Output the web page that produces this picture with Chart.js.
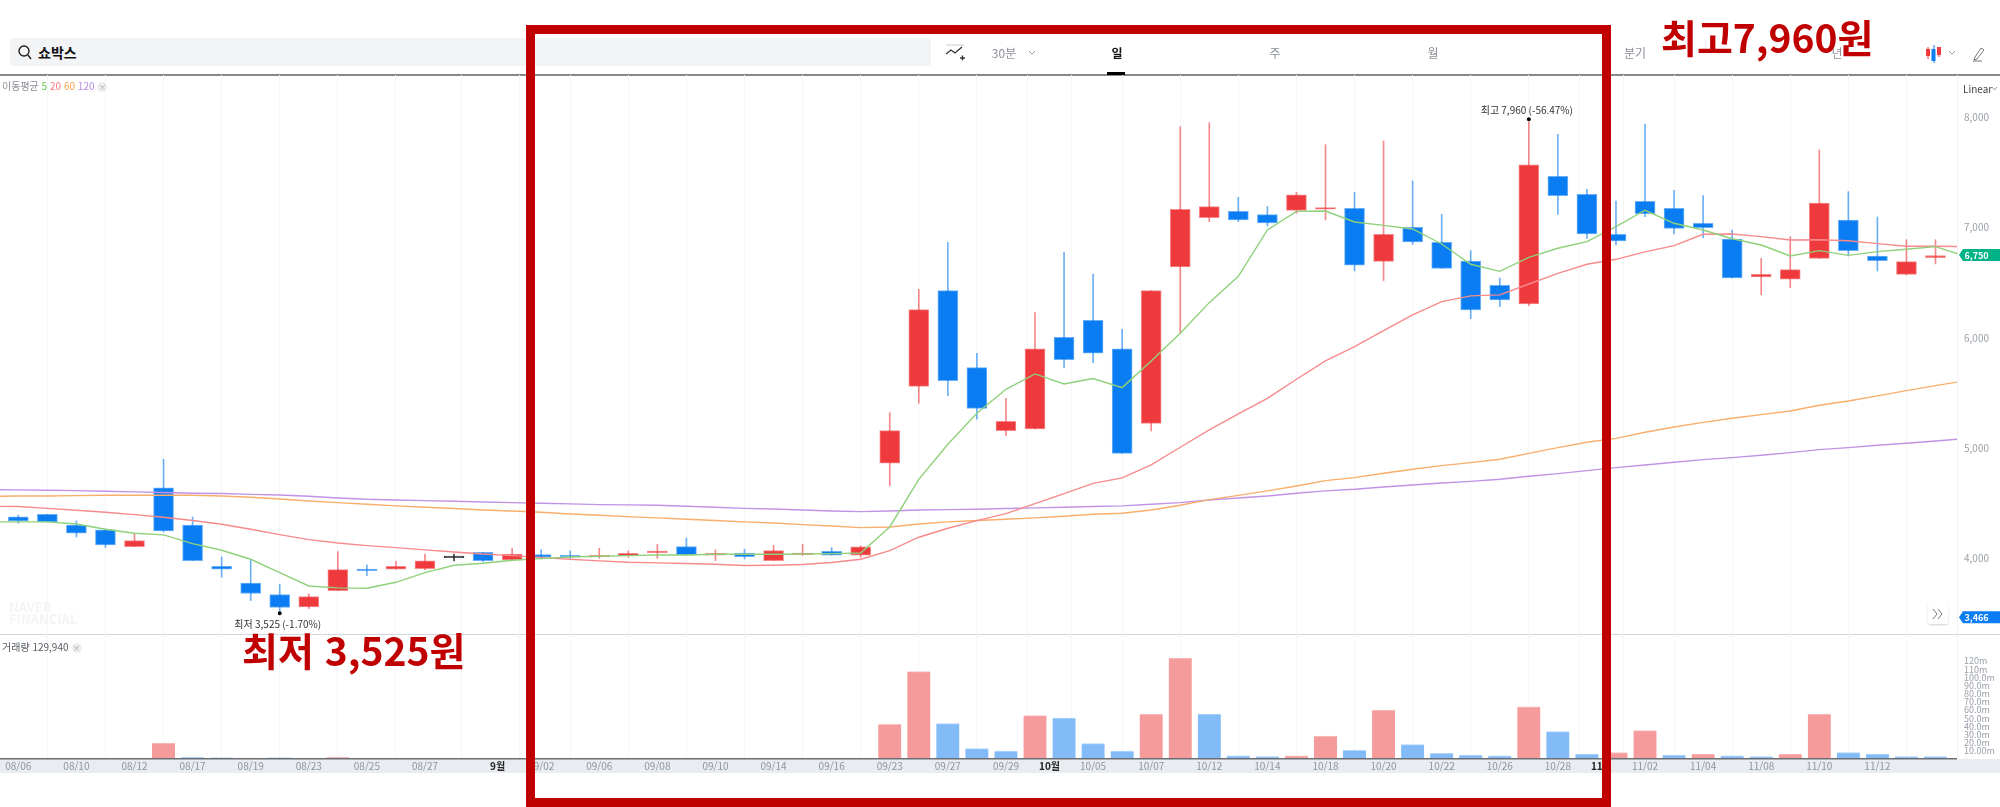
<!DOCTYPE html>
<html lang="ko">
<head>
<meta charset="utf-8">
<title>쇼박스</title>
<script src="https://cdn.jsdelivr.net/npm/chart.js@4/dist/chart.umd.min.js"></script>
<style>
html, body { margin: 0; padding: 0; background: #fff; overflow: hidden; }
body { width: 2000px; height: 807px; position: relative; font-family: "Noto Sans CJK KR", "Noto Sans", sans-serif; }
#price_chart { position: absolute; left: 0; top: 0; }
.label { position: absolute; white-space: nowrap; line-height: 16px; height: 16px; }
.tab { font-size: 12px; color: #8b9098; transform: translateX(-50%); }
.mono { position: absolute; }
#search { position: absolute; left: 10px; top: 38px; width: 921px; height: 28px; background: #f3f4f6; border-radius: 4px; }
#frame { position: absolute; left: 526px; top: 25px; width: 1067px; height: 764px; border: 9px solid #c00000; }
.note { position: absolute; color: #c00000; font-weight: 700; font-size: 39px; line-height: 44px; white-space: nowrap; }
.badge_x { display: inline-block; width: 10px; height: 10px; line-height: 9px; border-radius: 5px; background: #eceef0; color: #a8adb3; font-size: 8px; text-align: center; margin-left: 3px; }
</style>
</head>
<body>
<canvas id="price_chart" width="2000" height="807"></canvas>

<div id="search"></div>
<svg class="mono" style="left:18px;top:44px" width="14" height="16" viewBox="0 0 14 16"><circle cx="6" cy="7" r="5" fill="none" stroke="#222" stroke-width="1.4"/><path d="M10 11l3 4" stroke="#222" stroke-width="1.4"/></svg>
<div class="label" style="left:38px;top:44px;font-size:14px;font-weight:700;color:#111">쇼박스</div>

<svg class="mono" style="left:945px;top:44px" width="20" height="18" viewBox="0 0 20 18"><path d="M1 1h18" stroke="#ccc"/><path d="M1 10l5-4 4 3 7-6" fill="none" stroke="#333" stroke-width="1.3"/><path d="M15 14h5M17.5 11.500v5" stroke="#333" stroke-width="1.300"/></svg>
<div class="label tab" style="left:1004px;top:45px">30분</div>
<svg class="mono" style="left:1028px;top:50px" width="8" height="6" viewBox="0 0 8 6"><path d="M1 1l3 3 3-3" fill="none" stroke="#999"/></svg>
<div class="label tab" style="left:1117px;top:45px;color:#111;font-weight:700">일</div>
<div class="mono" style="left:1107px;top:72px;width:18px;height:3px;background:#000"></div>
<div class="label tab" style="left:1275px;top:45px">주</div>
<div class="label tab" style="left:1433px;top:45px">월</div>
<div class="label tab" style="left:1635px;top:45px">분기</div>
<div class="label tab" style="left:1837px;top:45px">년</div>
<svg class="mono" style="left:1925px;top:44px" width="18" height="20" viewBox="0 0 18 20"><path d="M9 1v18" stroke="#0a7df2"/><rect x="6.500" y="5" width="4" height="12" fill="#0a7df2"/><path d="M3 3v12M14 3v10" stroke="#ef3a3d"/><rect x="1" y="5" width="4" height="7" fill="#ef3a3d"/><rect x="12" y="3" width="4" height="8" fill="#ef3a3d"/></svg>
<svg class="mono" style="left:1948px;top:50px" width="8" height="6" viewBox="0 0 8 6"><path d="M1 1l3 3 3-3" fill="none" stroke="#999"/></svg>
<svg class="mono" style="left:1972px;top:46px" width="14" height="16" viewBox="0 0 14 16"><path d="M9 2l3 2-7 9-3 1 1-3z M1 15h9" fill="none" stroke="#777"/></svg>

<div class="label" style="left:2px;top:78px;font-size:10px;color:#8b9098">이동평균 <span style="color:#63c94f">5</span> <span style="color:#f77d80">20</span> <span style="color:#f7a045">60</span> <span style="color:#b78ae6">120</span><span class="badge_x">×</span></div>
<div class="label" style="left:2px;top:639px;font-size:10px;color:#555b63">거래량 129,940<span class="badge_x">×</span></div>
<div class="label" style="left:1963px;top:81px;font-size:10px;color:#444">Linear</div>
<svg class="mono" style="left:1991px;top:86px" width="7" height="6" viewBox="0 0 7 6"><path d="M1 1l2.500 3 2.500-3" fill="none" stroke="#999"/></svg>
<div class="label" style="left:9px;top:601px;font-size:13px;font-weight:700;color:#f3f4f6;line-height:12px;height:26px">NAVER<br>FINANCIAL</div>

<div class="mono" style="left:1928px;top:604px;width:20px;height:20px;background:#fff;box-shadow:0 1px 2px rgba(0,0,0,.18);border-radius:2px"></div>
<svg class="mono" style="left:1932px;top:608px" width="12" height="12" viewBox="0 0 12 12"><path d="M1 1l4 5-4 5M6 1l4 5-4 5" fill="none" stroke="#777"/></svg>

<div id="frame"></div>
<div class="note" style="left:1661px;top:14px">최고7,960원</div>
<div class="note" style="left:242px;top:627px">최저 3,525원</div>

<script>
// trading days, first and last are only there so the averages run off the plot edges
const dates = ['08/05','08/06','08/09','08/10','08/11','08/12','08/13','08/17','08/18','08/19','08/20','08/23','08/24','08/25','08/26','08/27','08/30','08/31','09/01','09/02','09/03','09/06','09/07','09/08','09/09','09/10','09/13','09/14','09/15','09/16','09/17','09/23','09/24','09/27','09/28','09/29','09/30','10/01','10/05','10/06','10/07','10/08','10/12','10/13','10/14','10/15','10/18','10/19','10/20','10/21','10/22','10/25','10/26','10/27','10/28','10/29','11/01','11/02','11/03','11/04','11/05','11/08','11/09','11/10','11/11','11/12','11/15','11/16','11/17'];

const opens = [4375,4399,4302,4257,4106,4638,4302,3927,3776,3671,3559,3707,3903,3900,3906,4006,4054,3985,4033,4021,4012,4024,4051,4106,4027,4048,3979,4033,4063,4027,4862,5560,6428,5730,5158,5173,6005,6159,5899,5224,6643,7090,7147,7117,7156,7168,7175,6694,7002,6866,6697,6476,6307,7465,7302,6939,7238,7175,7039,6896,6552,6531,6721,7069,6742,6576,6727];
const closes = [4339,4330,4227,4121,4160,4248,3979,3900,3680,3553,3652,3897,3888,3927,3976,4006,3979,4039,4009,4012,4027,4045,4063,4030,4045,4015,4070,4045,4027,4103,5158,6256,5612,5360,5243,5899,5802,5860,4952,6428,7166,7190,7069,7042,7296,7178,6658,6939,6869,6630,6252,6343,7568,7290,6942,6878,7126,6993,7000,6543,6576,6618,7223,6791,6700,6691,6745];
const highs = [4393,4399,4339,4266,4227,4898,4375,4012,3979,3764,3677,4060,3940,3973,4039,4039,4054,4091,4076,4067,4091,4067,4127,4184,4076,4082,4118,4127,4097,4112,5321,6440,6866,5860,5451,6228,6776,6579,6077,6428,7915,7951,7274,7190,7320,7752,7320,7785,7422,7120,6791,6543,7960,7846,7347,7241,7939,7338,7290,6978,6721,6918,7704,7326,7096,6890,6890];
const lows = [4317,4330,4193,4097,4106,4239,3979,3828,3616,3525,3544,3707,3843,3900,3894,3976,3970,3985,3994,3994,4000,4009,4000,4030,3979,3994,3979,4027,4027,4009,4656,5406,5476,5261,5113,5173,5730,5775,4952,5155,6041,7054,7054,7014,7129,7069,6606,6519,6848,6630,6174,6283,6292,7120,6902,6842,7099,6942,6906,6543,6389,6455,6721,6742,6606,6570,6670];

// volume in millions, the colour does not always follow the candle
const volumes = [0.4,0.3,0.3,0.3,0.3,19.6,2,1.6,1.2,1.6,0.3,2,0.3,0.3,0.3,0.2,0.2,0.3,0.2,0.2,0.2,0.2,0.2,0.3,0.2,0.2,0.3,0.2,0.2,0.3,42.5,107,43.4,12.7,9.8,53,50,18.8,9.8,55,123.5,55,4,2.9,4,28,10.6,60,17.6,7,4.9,4,63.8,33.5,6,8,34.8,4.9,6,4,2.9,6,55,8,6,3,3];
const volumeDirs = ['B','B','B','B','R','R','B','B','R','B','R','R','B','R','R','B','B','R','B','B','R','R','R','B','R','B','R','R','B','R','R','R','B','B','B','R','B','B','B','R','R','B','B','B','R','R','B','R','B','B','B','B','R','B','B','R','R','B','R','B','B','R','R','B','B','B','B'];

const ma5 = [4330,4330,4330,4311,4263,4227,4212,4133,4073,3991,3870,3749,3731,3728,3782,3870,3937,3955,3982,3997,4012,4018,4024,4030,4030,4036,4036,4036,4039,4042,4048,4284,4716,5034,5315,5533,5672,5581,5630,5548,5790,6041,6319,6558,6978,7147,7150,7051,7020,6987,6851,6667,6603,6730,6812,6872,7008,7157,7039,6978,6899,6842,6742,6791,6748,6782,6803,6827,6742];
const ma20 = [4472,4469,4453,4435,4417,4396,4372,4342,4308,4263,4215,4169,4139,4115,4097,4076,4057,4039,4024,4006,3991,3976,3964,3958,3952,3946,3934,3937,3943,3961,3991,4070,4191,4272,4342,4405,4496,4587,4680,4729,4847,5007,5164,5309,5451,5624,5790,5920,6065,6207,6328,6380,6389,6488,6585,6667,6712,6779,6836,6939,6942,6918,6887,6890,6881,6854,6830,6830,6827];
const ma60 = [4562,4565,4565,4568,4571,4571,4571,4571,4565,4553,4538,4520,4505,4490,4475,4463,4451,4438,4429,4417,4402,4390,4378,4366,4354,4342,4330,4320,4305,4293,4278,4284,4311,4330,4342,4354,4366,4381,4399,4408,4438,4481,4532,4571,4611,4656,4704,4732,4771,4807,4840,4868,4898,4952,5004,5052,5088,5143,5191,5233,5270,5303,5336,5388,5427,5473,5521,5566,5609];
const ma120 = [4623,4620,4617,4614,4608,4602,4596,4590,4587,4580,4574,4562,4547,4535,4529,4523,4517,4511,4505,4499,4493,4487,4484,4481,4472,4463,4453,4447,4438,4429,4423,4429,4438,4441,4444,4451,4457,4463,4469,4475,4490,4505,4529,4547,4565,4590,4611,4626,4647,4665,4683,4698,4717,4744,4768,4795,4822,4846,4871,4895,4913,4934,4958,4986,5004,5025,5043,5064,5085];

const tickDates = ['08/06','08/10','08/12','08/17','08/19','08/23','08/25','08/27','09/02','09/06','09/08','09/10','09/14','09/16','09/23','09/27','09/29','10/05','10/07','10/12','10/14','10/18','10/20','10/22','10/26','10/28','11/02','11/04','11/08','11/10','11/12'];
const monthTicks = [['9월','09/01'],['10월','10/01'],['11월','11/01']];
const priceTicks = [4000,5000,6000,7000,8000];
const volumeTicks = [10,20,30,40,50,60,70,80,90,100,110,120];
const volumeTickLabels = ['10.00m','20.0m','30.0m','40.0m','50.0m','60.0m','70.0m','80.0m','90.0m','100.0m','110m','120m'];

const RED = '#ef3a3d', BLUE = '#0a7df2';
const candleX = i => i + 1; // dates[0] has no candle

// month labels sit half a step before the first trading day of the month
const xTicks = tickDates.map(d => ({ value: dates.indexOf(d), label: d, month: false }))
    .concat(monthTicks.map(m => ({ value: dates.indexOf(m[1]) - 0.5, label: m[0], month: true })))
    .sort((a, b) => a.value - b.value);

function candleColor(i, alpha) {
    if (opens[i] === closes[i]) return alpha ? 'rgba(30,30,30,.85)' : '#222';
    const up = closes[i] > opens[i];
    if (alpha) return up ? 'rgba(239,58,61,.6)' : 'rgba(10,125,242,.6)';
    return up ? RED : BLUE;
}

function maLine(values, color) {
    return {
        type: 'line',
        data: values.map((v, i) => ({ x: i, y: v })),
        borderColor: color,
        borderWidth: 1.4,
        pointRadius: 0,
        tension: 0,
        yAxisID: 'y',
        order: 0
    };
}

// scales must not grow margins for half of their end labels
function noScalePadding(scale) {
    scale.paddingLeft = 0;
    scale.paddingRight = 0;
    scale.paddingTop = 0;
    scale.paddingBottom = 0;
}

const chartDecor = {
    id: 'chartDecor',
    beforeDraw(chart) {
        const c = chart.ctx, a = chart.chartArea;
        c.save();
        c.fillStyle = '#e9ecf1';
        c.fillRect(0, a.bottom, 2000, 14);
        c.fillStyle = '#d3d6dc';
        c.fillRect(0, 634, 2000, 1);
        c.fillStyle = '#85888c';
        c.fillRect(0, 74, 2000, 2);
        c.restore();
    },
    afterDatasetsDraw(chart) {
        const c = chart.ctx, a = chart.chartArea, x = chart.scales.x, y = chart.scales.y;
        c.save();
        c.fillStyle = '#6b6e72';
        c.fillRect(0, a.bottom - 1, a.right, 1.5);

        // lowest and highest price markers
        const lowIndex = lows.indexOf(Math.min(...lows));
        const highIndex = highs.indexOf(Math.max(...highs));
        const lowX = x.getPixelForValue(candleX(lowIndex)), lowY = y.getPixelForValue(lows[lowIndex]);
        const highX = x.getPixelForValue(candleX(highIndex)), highY = y.getPixelForValue(highs[highIndex]);
        c.fillStyle = '#000';
        c.beginPath();
        c.arc(lowX, lowY + 2.500, 2, 0, Math.PI * 2);
        c.arc(highX, highY - 2.500, 2, 0, Math.PI * 2);
        c.fill();
        c.font = '10px "Noto Sans CJK KR"';
        c.fillStyle = '#333';
        c.textAlign = 'center';
        c.textBaseline = 'middle';
        c.fillText('최저 3,525 (-1.70%)', lowX - 2, lowY + 14);
        c.fillText('최고 7,960 (-56.47%)', highX - 2, highY - 12);

        // current and reference price tags on the axis
        drawTag(c, a.right + 2, y.getPixelForValue(6750), '#00b386', '6,750');
        drawTag(c, a.right + 2, y.getPixelForValue(3466), BLUE, '3,466');
        c.restore();
    }
};

function drawTag(c, left, mid, color, text) {
    c.fillStyle = color;
    c.beginPath();
    c.moveTo(left, mid);
    c.lineTo(left + 4, mid - 6);
    c.lineTo(2000, mid - 6);
    c.lineTo(2000, mid + 6);
    c.lineTo(left + 4, mid + 6);
    c.closePath();
    c.fill();
    c.fillStyle = '#fff';
    c.font = 'bold 9px "Noto Sans CJK KR"';
    c.textAlign = 'left';
    c.textBaseline = 'middle';
    c.fillText(text, left + 5.500, mid);
}

Chart.defaults.font.family = '"Noto Sans CJK KR", "Noto Sans", sans-serif';

let price_chart = new Chart(document.getElementById('price_chart').getContext('2d'), {
    data: {
        datasets: [
            maLine(ma5, '#8fd17a'),
            maLine(ma20, '#f78a8c'),
            maLine(ma60, '#f9ae6c'),
            maLine(ma120, '#c193e6'),
            {
                type: 'bar',
                label: 'body',
                data: opens.map((o, i) => ({ x: candleX(i), y: [o, closes[i]] })),
                backgroundColor: opens.map((o, i) => candleColor(i, false)),
                borderColor: opens.map((o, i) => candleColor(i, true)),
                borderWidth: 1,
                borderSkipped: false,
                barThickness: 20,
                minBarLength: 1.500,
                grouped: false,
                yAxisID: 'y',
                order: 1
            },
            {
                type: 'bar',
                label: 'wick',
                data: highs.map((h, i) => ({ x: candleX(i), y: [lows[i], h] })),
                backgroundColor: opens.map((o, i) => candleColor(i, true)),
                borderWidth: 0,
                barThickness: 1,
                grouped: false,
                yAxisID: 'y',
                order: 2
            },
            {
                type: 'bar',
                label: 'volume',
                data: volumes.map((v, i) => ({ x: candleX(i), y: v })),
                backgroundColor: volumeDirs.map(d => d === 'R' ? '#f59b9c' : '#82bbf8'),
                borderColor: volumeDirs.map(d => d === 'R' ? '#f9c0c1' : '#b0d4fb'),
                borderWidth: { top: 1 },
                borderSkipped: 'bottom',
                barThickness: 23,
                grouped: false,
                yAxisID: 'volume',
                order: 3
            }
        ]
    },
    options: {
        responsive: false,
        animation: false,
        devicePixelRatio: 1,
        layout: { padding: { top: 75, bottom: 34, left: 0, right: 0 } },
        plugins: { legend: { display: false }, tooltip: { enabled: false } },
        scales: {
            x: {
                type: 'linear',
                offset: false,
                min: 0.37,
                max: 67.74,
                afterBuildTicks: scale => { scale.ticks = xTicks.map(t => ({ value: t.value })); },
                afterFit: scale => { scale.height = 14; noScalePadding(scale); },
                grid: { color: '#f5f6f8', drawTicks: false },
                border: { display: false },
                ticks: {
                    autoSkip: false,
                    maxRotation: 0,
                    padding: 1,
                    font: ctx => ({ size: 10, weight: xTicks[ctx.index] && xTicks[ctx.index].month ? 'bold' : 'normal' }),
                    color: ctx => xTicks[ctx.index] && xTicks[ctx.index].month ? '#222' : '#8f959d',
                    callback: (value, index) => xTicks[index].label
                }
            },
            y: {
                position: 'right',
                stack: 'panes',
                stackWeight: 559,
                weight: 0,
                min: 3313,
                max: 8384,
                afterBuildTicks: scale => { scale.ticks = priceTicks.map(v => ({ value: v })); },
                afterFit: scale => { scale.width = 43; noScalePadding(scale); },
                grid: { display: false, drawTicks: false },
                border: { color: '#f0f1f3' },
                ticks: {
                    padding: 7,
                    autoSkip: false,
                    font: { size: 10 },
                    color: '#9aa0a8',
                    callback: value => value.toLocaleString('en-US')
                }
            },
            volume: {
                axis: 'y',
                position: 'right',
                stack: 'panes',
                stackWeight: 125,
                weight: 1,
                min: 0,
                max: 153,
                afterBuildTicks: scale => { scale.ticks = volumeTicks.map(v => ({ value: v })); },
                afterFit: scale => { scale.width = 43; noScalePadding(scale); },
                grid: { display: false, drawTicks: false },
                border: { color: '#f0f1f3' },
                ticks: {
                    padding: 7,
                    autoSkip: false,
                    font: { size: 9 },
                    color: '#9aa0a8',
                    callback: (value, index) => volumeTickLabels[index]
                }
            }
        }
    },
    plugins: [chartDecor]
});
</script>
</body>
</html>
